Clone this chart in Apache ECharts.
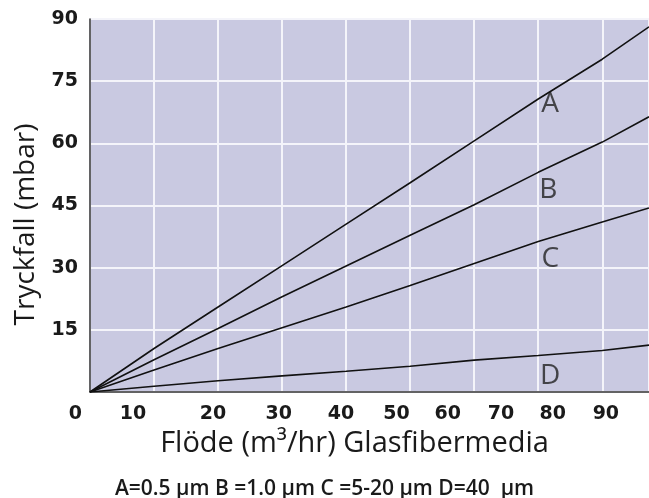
<!DOCTYPE html>
<html>
<head>
<meta charset="utf-8">
<script src="https://cdn.jsdelivr.net/npm/echarts@6/dist/echarts.min.js"></script>
<style>
  html, body { margin: 0; padding: 0; background: #fff; }
  #chart { width: 649px; height: 498px; }
</style>
</head>
<body>
<div id="chart"></div>
<script>
// flöde, in grid units (one white grid line every 10)
const flow = [0, 10, 20, 30, 40, 50, 60, 70, 80, 87.3]
// tryckfall (mbar) per media
const seriesA = [0, 10.5, 20.5, 30.5, 40.5, 50.5, 60.6, 70.7, 80.3, 88.1]
const seriesB = [0, 7.8, 15.3, 23, 30.4, 37.8, 45.2, 53, 60.3, 66.4]
const seriesC = [0, 5.3, 10.5, 15.5, 20.5, 25.7, 31, 36.3, 41, 44.4]
const seriesD = [0, 1.4, 2.7, 3.9, 5, 6.2, 7.7, 8.8, 10, 11.3]
const curveNames = ['A', 'B', 'C', 'D']
// x tick labels sit where the original drawing put them (not on the grid lines)
const xTickLabels = ['0', '10', '20', '30', '40', '50', '60', '70', '80', '90']
const xTickAt = [-2.3, 6.7, 19.2, 29.5, 39.2, 47.9, 55.9, 64.2, 72.3, 80.6]

const font = '"Open Sans", "DejaVu Sans", sans-serif'
const tickFont = '"DejaVu Sans", sans-serif'
const ink = '#1a1a1a'
const labelIdx = 7
const labelOffset = [[12, 5], [10, 18], [12, 17], [12, 21]]

const chart = echarts.init(document.getElementById('chart'))

const curves = [seriesA, seriesB, seriesC, seriesD]

const lineSeries = curves.map((vals, i) => ({
  type: 'line',
  name: curveNames[i],
  showSymbol: false,
  symbol: 'none',
  lineStyle: { color: '#111', width: 1.6 },
  data: vals.map((v, k) => [flow[k], v])
}))

// letter A..D next to each curve
const letterSeries = curves.map((vals, i) => ({
  type: 'scatter',
  symbolSize: 1,
  itemStyle: { color: 'rgba(0,0,0,0)' },
  silent: true,
  label: {
    show: true,
    formatter: curveNames[i],
    position: 'inside',
    offset: labelOffset[i],
    fontFamily: font,
    fontSize: 28,
    color: '#222'
  },
  data: [[flow[labelIdx], vals[labelIdx]]]
}))

const option = {
  animation: false,
  backgroundColor: '#fff',
  title: {
    text: 'A=0.5 µm B =1.0 µm C =5-20 µm D=40  µm',
    left: 'center',
    top: 474,
    textStyle: { fontFamily: font, fontSize: 21, fontWeight: 600, color: ink }
  },
  grid: [
    { left: 90, top: 19, right: 0, bottom: 106, show: true, backgroundColor: '#c9c9e1', borderWidth: 0 },
    { left: 60, top: 19, right: 0, bottom: 106 }
  ],
  xAxis: [
    {
      type: 'value', gridIndex: 0, min: 0, max: 87.3, interval: 10,
      axisLine: { show: true, lineStyle: { color: '#333', width: 1.5 } },
      axisTick: { show: false },
      axisLabel: { show: false },
      splitLine: { show: true, lineStyle: { color: '#f4f4fa', width: 2 } }
    },
    {
      type: 'value', gridIndex: 1, min: -4.6875, max: 87.34,
      axisLine: { show: false },
      axisTick: { show: false },
      splitLine: { show: false },
      axisLabel: {
        customValues: xTickAt,
        margin: 13,
        fontFamily: tickFont, fontSize: 19, fontWeight: 'bold', color: ink,
        formatter: v => {
          const k = xTickAt.findIndex(t => Math.abs(t - v) < 1e-6)
          return k < 0 ? '' : xTickLabels[k]
        }
      },
      name: 'Flöde (m³/hr) Glasfibermedia',
      nameLocation: 'middle',
      nameGap: 33,
      nameTextStyle: { fontFamily: font, fontSize: 29, color: ink }
    }
  ],
  yAxis: [
    {
      type: 'value', gridIndex: 0, min: 0, max: 90, interval: 15,
      axisLine: { show: true, lineStyle: { color: '#333', width: 1.5 } },
      axisTick: { show: false },
      axisLabel: {
        margin: 12,
        fontFamily: tickFont, fontSize: 19, fontWeight: 'bold', color: ink,
        formatter: v => (v === 0 ? '' : String(v))
      },
      splitLine: { show: true, lineStyle: { color: '#f4f4fa', width: 2 } },
      name: 'Tryckfall (mbar)',
      nameLocation: 'middle',
      nameGap: 50,
      nameRotate: 90,
      nameTextStyle: { fontFamily: font, fontSize: 28, color: ink, padding: [0, 38, 0, 0] }
    },
    { type: 'value', gridIndex: 1, show: false, min: 0, max: 90 }
  ],
  series: lineSeries.concat(letterSeries)
}

chart.setOption(option)
</script>
</body>
</html>
